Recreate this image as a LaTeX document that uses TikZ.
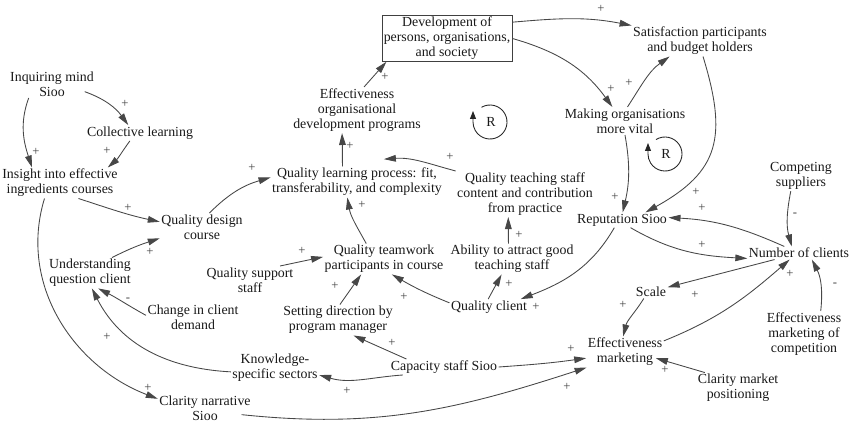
\documentclass[tikz,border=0pt]{standalone}
\usepackage{fontspec}
\setmainfont{Liberation Serif}
\usetikzlibrary{arrows.meta}
\begin{document}
\begin{tikzpicture}[x=0.75pt,y=-0.75pt,
  lbl/.style={font=\fontsize{10.4}{11.3}\selectfont, align=center, inner sep=1pt, text=black!90},
  pol/.style={font=\fontsize{9.5}{9.5}\selectfont, inner sep=0pt, text=black!75},
  conn/.style={draw=black!72, line width=0.65pt, -{Triangle[length=9pt,width=5pt]}},
  rloop/.style={draw=black!85, line width=0.65pt, -{Triangle[length=6pt,width=4.5pt]}}]
\useasboundingbox (0,0) rectangle (852,424);

% variables
\node[lbl] (IM)  at (52,84)   {Inquiring mind\\Sioo};
\node[lbl] (CL)  at (140,133) {Collective learning};
\node[lbl] (IN)  at (60,183)  {Insight into effective\\ingredients courses};
\node[lbl] (QD)  at (202,227) {Quality design\\course};
\node[lbl] (UQ)  at (90,273)  {Understanding\\question client};
\node[lbl] (CD)  at (193,317) {Change in client\\demand};
\node[lbl] (KS)  at (275,368) {Knowledge-\\specific sectors};
\node[lbl] (CN)  at (205,408) {Clarity narrative\\Sioo};
\node[lbl] (QS)  at (250,280) {Quality support\\staff};
\node[lbl] (SD)  at (338,320) {Setting direction by\\program manager};
\node[lbl] (CS)  at (444,367) {Capacity staff Sioo};
\node[lbl] (QT)  at (384,259) {Quality teamwork\\participants in course};
\node[lbl] (QC)  at (489,307) {Quality client};
\node[lbl] (AT)  at (512,259) {Ability to attract good\\teaching staff};
\node[lbl] (QTS) at (525,194) {Quality teaching staff\\content and contribution\\from practice};
\node[lbl] (QL)  at (357,182) {Quality learning process: fit,\\transferability, and complexity};
\node[lbl] (EO)  at (357,110) {Effectiveness\\organisational\\development programs};
\node[lbl, draw=black!75, line width=0.7pt, minimum width=97.5pt, minimum height=33.75pt] (DEV) at (447,38.5) {Development of\\persons, organisations,\\and society};
\node[lbl] (SAT) at (700,41)  {Satisfaction participants\\and budget holders};
\node[lbl] (MO)  at (625,121) {Making organisations\\more vital};
\node[lbl] (REP) at (622,220) {Reputation Sioo};
\node[lbl] (COMP) at (801,176) {Competing\\suppliers};
\node[lbl] (NC)  at (799,253) {Number of clients};
\node[lbl] (SC)  at (651,292) {Scale};
\node[lbl] (EM)  at (625,352) {Effectiveness\\marketing};
\node[lbl] (CM)  at (738,388) {Clarity market\\positioning};
\node[lbl] (EMC) at (804,334) {Effectiveness\\marketing of\\competition};

% connectors
\draw[conn] ([xshift=-8pt]IM.-10) to[out=-20,in=126] (CL.146);
\draw[conn] (IM.-149) to[out=-110,in=108] (IN.151);
\draw[conn] (CL.-142) to[out=-126,in=41] (IN.18);
\draw[conn] (IN.-40) to[out=-18,in=168] (QD.173);
\draw[conn] (UQ.35) to[out=27,in=-162] (QD.-165);
\draw[conn] (QD.62) to[out=45,in=196] (QL.177);
\draw[conn] (CD.178) to[out=151,in=-27] (UQ.-62);
\draw[conn] (KS.-175) to[out=177,in=-63] (UQ.-83);
\draw[conn] (IN.-135) to[out=-107,in=159] (CN.169);
\draw[conn] (QS.25) -- (QT.178);
\draw[conn] (SD.83) -- (QT.-146);
\draw[conn] (QT.139) to[out=119,in=-80] (QL.-122);
\draw[conn] (QL.133) to[out=92,in=-88] (EO.-123);
\draw[conn] (EO.73) -- (DEV.-159);
\draw[conn] (QTS.north west) to[out=165,in=4] ([yshift=5.5pt]QL.30);
\draw[conn] (AT.103) -- (QTS.-126);
\draw[conn] (QC.96) -- (AT.-124);
\draw[conn] (QC.174) to[out=158,in=-30] (QT.-63);
\draw[conn] (REP.-135) to[out=-120,in=21] (QC.14.5);
\draw[conn] (CS.168) -- (SD.-45);
\draw[conn] (CS.-169) to[out=184,in=-16] (KS.-9);
\draw[conn] (CS.east) to[out=4,in=188] (EM.-171.5);
\draw[conn] ([xshift=-8pt]CN.-8) to[out=-6,in=198] (EM.-158);
\draw[conn] (CM.155) -- ([xshift=-6pt]EM.-9.5);
\draw[conn] (SC.-138) to[out=-122,in=76] (EM.97);
\draw[conn] (NC.-165) -- (SC.16);
\draw[conn] (EM.16) to[out=22,in=-139] (NC.-145.5);
\draw[conn] (EMC.54) to[out=84,in=-63] (NC.-27);
\draw[conn] (COMP.-124) to[out=-101,in=105] (NC.138);
\draw[conn] (NC.156) to[out=156,in=-3] (REP.3);
\draw[conn] (REP.-42) to[out=-30,in=177] (NC.-174.5);
\draw[conn] (MO.-90) to[out=-80,in=77] (REP.85);
\draw[conn] (SAT.-79) to[out=-73,in=29,looseness=1.3] (REP.18);
\draw[conn] (MO.80) to[out=57,in=-144.5] (SAT.-153);
\draw[conn] (DEV.east) to[out=-16,in=126] (MO.132);
\draw[conn] (DEV.14) to[out=5,in=169] (SAT.north west);

% polarities
\node[pol] (p1)  at (125,104) {+};
\node[pol] (p2)  at (36,152)  {+};
\node[pol] (p3)  at (107,151) {+};
\node[pol] (p4)  at (128,208) {+};
\node[pol] (p5)  at (150,252) {+};
\node[pol] (p6)  at (252,168) {+};
\node[pol] (p7)  at (128,300) {-};
\node[pol] (p8)  at (107,337) {+};
\node[pol] (p9)  at (148,388) {+};
\node[pol] (p10) at (302,251) {+};
\node[pol] (p11) at (335,286) {+};
\node[pol] (p12) at (362,205) {+};
\node[pol] (p13) at (350,146) {+};
\node[pol] (p14) at (385,77)  {+};
\node[pol] (p15) at (450,157) {+};
\node[pol] (p16) at (519,235) {+};
\node[pol] (p17) at (509,284) {+};
\node[pol] (p18) at (404,297) {+};
\node[pol] (p19) at (536,307) {+};
\node[pol] (p20) at (392,343) {+};
\node[pol] (p21) at (347,391) {+};
\node[pol] (p22) at (571,349) {+};
\node[pol] (p23) at (567,387) {+};
\node[pol] (p24) at (665,370) {+};
\node[pol] (p25) at (623,305) {+};
\node[pol] (p26) at (695,295) {+};
\node[pol] (p27) at (790,274) {+};
\node[pol] (p28) at (835,285) {-};
\node[pol] (p29) at (795,215) {-};
\node[pol] (p30) at (702,208) {+};
\node[pol] (p31) at (702,245) {+};
\node[pol] (p32) at (615,197) {+};
\node[pol] (p33) at (696,192) {+};
\node[pol] (p34) at (629,83)  {+};
\node[pol] (p35) at (611,89)  {+};
\node[pol] (p36) at (601,9)   {+};

% loop markers
\draw[rloop] (490,122) ++(-120:17) arc[start angle=-120, end angle=180, radius=17] -- ++(0,-11);
\node[lbl] (R1) at (491,122) {R};
\draw[rloop] (665,154) ++(-122:17) arc[start angle=-122, end angle=180, radius=17] -- ++(0,-11);
\node[lbl] (R2) at (666,154) {R};
\end{tikzpicture}
\end{document}
